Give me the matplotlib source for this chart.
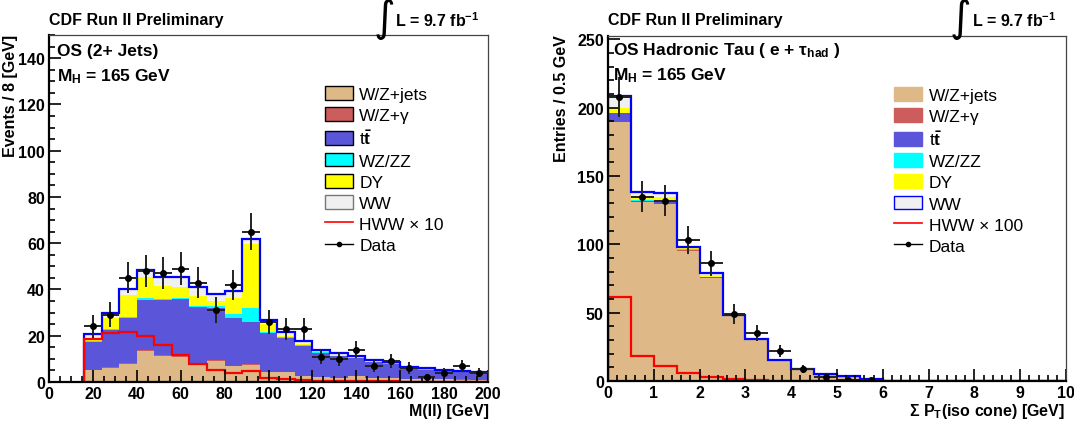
import numpy as np
import matplotlib
matplotlib.use("Agg")
import matplotlib.pyplot as plt
from matplotlib.patches import Patch
from matplotlib.lines import Line2D
from matplotlib.ticker import MultipleLocator

plt.rcParams['font.family'] = ['Liberation Sans', 'DejaVu Sans']
plt.rcParams['font.weight'] = 'bold'
plt.rcParams['mathtext.fontset'] = 'custom'
plt.rcParams['mathtext.rm'] = 'Liberation Sans'
plt.rcParams['mathtext.it'] = 'Liberation Sans:italic'
plt.rcParams['mathtext.bf'] = 'Liberation Sans:bold'

# ---- left panel: OS (2+ Jets), M(ll) in 8 GeV bins (16 -> 200) ----
mll_edges = np.arange(16, 201, 8)
mll_wzjets = [5.0, 6.0, 7.6, 13.4, 11.2, 11.0, 8.0, 9.0, 6.8, 7.4, 4.3, 4.2,
              2.6, 2.0, 1.7, 2.5, 1.6, 1.7, 1.3, 1.3, 1.1, 1.0, 0.9]
mll_wzg = [0.4, 0.5, 0.4, 0.5, 0.4, 0.3, 0.3, 0.4, 0.3, 0.3, 0.2, 0.2,
           0.1, 0.1, 0.1, 0.1, 0.1, 0.1, 0.1, 0.1, 0.1, 0.1, 0.1]
mll_ttbar = [11.9, 15.9, 19.6, 21.6, 23.9, 24.7, 24.2, 22.8, 20.7, 18.3, 16.7, 14.6,
             13.0, 10.4, 9.3, 7.6, 6.8, 6.0, 4.2, 3.9, 3.4, 3.1, 2.8]
mll_wzzz = [0.4, 0.4, 0.4, 0.7, 0.5, 0.4, 0.3, 0.5, 1.6, 6.0, 0.6, 0.4,
            0.3, 0.3, 0.3, 0.3, 0.3, 0.3, 0.2, 0.2, 0.2, 0.2, 0.2]
mll_dy = [0.6, 4.9, 9.7, 9.0, 5.3, 4.6, 4.3, 2.1, 7.1, 27.6, 3.2, 0.6,
          0.5, 0.4, 0.4, 0.3, 0.2, 0.2, 0.2, 0.1, 0.1, 0.1, 0.1]
mll_ww = [2.3, 2.1, 2.3, 3.4, 3.9, 4.2, 3.9, 3.3, 2.8, 2.3, 1.9, 1.4,
          1.1, 0.8, 0.7, 0.6, 0.4, 0.5, 0.5, 0.3, 0.4, 0.4, 0.2]
mll_hww10 = [18.4, 21.3, 21.6, 19.8, 15.9, 11.6, 7.9, 5.1, 3.8, 4.6, 1.8, 1.1,
             0.8, 0.6, 0.5, 0.4, 0.3, 0.3, 0.2, 0.2, 0.2, 0.1, 0.1]
mll_data = [24, 29, 45, 48, 47, 49, 43, 31, 42, 65, 26, 23,
            23, 11, 10, 14, 7, 9, 6, 2, 4, 7, 4]

# ---- right panel: OS hadronic tau, sum pT in iso cone, 0.5 GeV bins ----
iso_edges = np.arange(0, 10.01, 0.5)
iso_wzjets = [189.4, 130.8, 129.6, 95.4, 75.2, 47.3, 30.0, 15.3, 8.7, 4.4,
              3.4, 1.0, 0, 0, 0, 0, 0, 0, 0, 0]
iso_wzg = [0.5, 0.3, 0.3, 0.2, 0.2, 0.1, 0.1, 0.05, 0, 0,
           0, 0, 0, 0, 0, 0, 0, 0, 0, 0]
iso_ttbar = [6.1, 1.0, 1.0, 0.6, 0.6, 0.3, 0.2, 0.1, 0.1, 0.1,
             0.1, 0.1, 0, 0, 0, 0, 0, 0, 0, 0]
iso_wzzz = [0.5, 0.4, 0.4, 0.3, 0.3, 0.1, 0.1, 0.05, 0, 0,
            0, 0, 0, 0, 0, 0, 0, 0, 0, 0]
iso_dy = [3.1, 2.7, 3.2, 1.0, 1.2, 0.3, 0.1, 0.1, 0.1, 0.2,
          0.2, 0, 0, 0, 0, 0, 0, 0, 0, 0]
iso_ww = [8.8, 3.4, 3.1, 0.8, 1.3, 0.4, 0.2, 0.1, 0.1, 0.2,
          0.2, 0.1, 0, 0, 0, 0, 0, 0, 0, 0]
iso_hww100 = [61.2, 18.6, 10.7, 5.6, 2.6, 1.2, 0.6, 0.3, 0.2, 0.1,
              0.1, 0.05, 0, 0, 0, 0, 0, 0, 0, 0]
iso_data = [208, 135, 132, 103, 86, 49, 35, 22, 9, 3,
            1, 1, 0, 0, 0, 0, 0, 0, 0, 0]

names = ["W/Z+jets", "W/Z+\u03b3", r"t$\bar{\mathrm{t}}$", "WZ/ZZ", "DY", "WW"]
colors = ["#deb887", "#cd5c5c", "#5a55d9", "#00ffff", "#ffff00", "#f0f0f0"]

W, H = 1074, 427


def draw_panel(ax, edges, comps, hww, data):
    """Stacked histogram + total outline + signal line + data points."""
    base = np.zeros(len(edges) - 1)
    for vals, c in zip(comps, colors):
        vals = np.asarray(vals, dtype=float)
        ax.stairs(base + vals, edges, baseline=base.copy(), fill=True,
                  color=c, lw=0)
        base = base + vals
    ax.stairs(base, edges, baseline=0, color="blue", lw=1.6)
    ax.stairs(hww, edges, baseline=0, color="red", lw=1.6)

    data = np.asarray(data, dtype=float)
    centers = 0.5 * (edges[:-1] + edges[1:])
    half = 0.5 * (edges[1] - edges[0])
    keep = data > 0
    ax.errorbar(centers[keep], data[keep], xerr=half, yerr=np.sqrt(data[keep]),
                fmt="o", color="black", ecolor="#222222", ms=4, elinewidth=1.4,
                capsize=0)


def style_axes(ax, xmax, ymax, xmaj, xmin, ymaj, ymin):
    ax.set_xlim(0, xmax)
    ax.set_ylim(0, ymax)
    ax.xaxis.set_major_locator(MultipleLocator(xmaj))
    ax.xaxis.set_minor_locator(MultipleLocator(xmin))
    ax.yaxis.set_major_locator(MultipleLocator(ymaj))
    ax.yaxis.set_minor_locator(MultipleLocator(ymin))
    ax.tick_params(which="both", direction="in", top=False, right=False,
                   width=1.2, labelsize=11.5, pad=3)
    ax.tick_params(which="major", length=8.5)
    ax.tick_params(which="minor", length=4.3)
    for s in ["left", "bottom"]:
        ax.spines[s].set_linewidth(1.6)
        ax.spines[s].set_color("black")
    for s in ["top", "right"]:
        ax.spines[s].set_linewidth(0.9)
        ax.spines[s].set_color("#444444")


def add_legend(ax, hww_label, x0, boxed):
    handles = []
    for n, c in zip(names, colors):
        if boxed:
            edge = "#777777" if n == "WW" else "black"
        else:
            edge = "blue" if n == "WW" else c
        handles.append(Patch(facecolor=c, edgecolor=edge, lw=1.0, label=n))
    handles.append(Line2D([], [], color="red", lw=1.2, label=hww_label))
    handles.append(Line2D([], [], color="black", lw=1.0, marker="o", ms=3,
                          label="Data"))
    ax.legend(handles=handles, loc="upper left", bbox_to_anchor=(x0, 0.852),
              frameon=False, prop={"size": 12.5, "weight": "normal"},
              handlelength=1.65, handleheight=0.85, handletextpad=0.35,
              labelspacing=0.3, borderpad=0, borderaxespad=0)


fig = plt.figure(figsize=(W / 100, H / 100), dpi=100)

ax1 = fig.add_axes([49 / W, 44 / H, 439 / W, 347 / H])
draw_panel(ax1, mll_edges,
           [mll_wzjets, mll_wzg, mll_ttbar, mll_wzzz, mll_dy, mll_ww],
           mll_hww10, mll_data)
style_axes(ax1, 200, 150, 20, 5, 20, 5)
add_legend(ax1, "HWW \u00d7 10", 0.628, True)
ax1.text(0.018, 0.955, "OS (2+ Jets)", transform=ax1.transAxes, fontsize=12.5,
         ha="left", va="center")
ax1.text(0.018, 0.882, r"M$_{\mathbf{H}}$ = 165 GeV", transform=ax1.transAxes,
         fontsize=12.5, ha="left", va="center")

ax2 = fig.add_axes([608 / W, 45 / H, 458 / W, 345 / H])
draw_panel(ax2, iso_edges,
           [iso_wzjets, iso_wzg, iso_ttbar, iso_wzzz, iso_dy, iso_ww],
           iso_hww100, iso_data)
style_axes(ax2, 10, 252.5, 1, 0.2, 50, 10)
add_legend(ax2, "HWW \u00d7 100", 0.624, False)
ax2.text(0.01, 0.96, "OS Hadronic Tau ( e + \u03c4$_{\mathbf{had}}$ )",
         transform=ax2.transAxes, fontsize=12.5, ha="left", va="center")
ax2.text(0.01, 0.887, r"M$_{\mathbf{H}}$ = 165 GeV", transform=ax2.transAxes,
         fontsize=12.5, ha="left", va="center")

# axis titles (ROOT style: y title aligned to top, x title to the right)
fig.text(11 / W, 1 - 35 / H, "Events / 8 [GeV]", rotation=90, ha="center",
         va="top", fontsize=11.5)
fig.text(562 / W, 1 - 35 / H, "Entries / 0.5 GeV", rotation=90, ha="center",
         va="top", fontsize=11.5)
fig.text(489 / W, 1 - 412 / H, "M(ll) [GeV]", ha="right", va="center",
         fontsize=11.5)
fig.text(1065 / W, 1 - 412 / H, r"$\mathbf{\Sigma}$ P$_{\mathbf{T}}$(iso cone) [GeV]",
         ha="right", va="center", fontsize=11.5)

# headers
for x_cdf, x_int, x_lum in [(49, 374, 395), (608, 950, 972)]:
    fig.text(x_cdf / W, 1 - 21 / H, "CDF Run II Preliminary", ha="left",
             va="center", fontsize=11.5)
    fig.text(x_int / W, 1 - 40 / H, "\u222b", ha="left", va="bottom",
             fontsize=30, fontweight="normal", family=["DejaVu Sans"])
    fig.text(x_lum / W, 1 - 21 / H, r"L = 9.7 fb$^{\mathbf{-1}}$", ha="left",
             va="center", fontsize=11.5)

fig.savefig("out.png", dpi=100)
